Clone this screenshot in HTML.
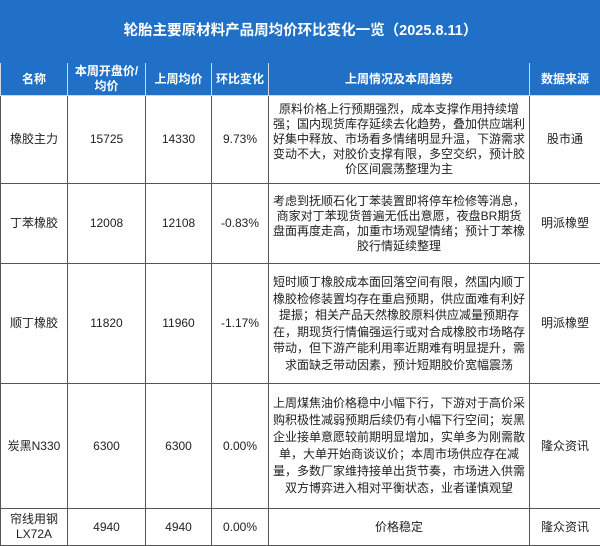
<!DOCTYPE html>
<html><head><meta charset="utf-8"><style>
body{margin:0;width:600px;height:545px;overflow:hidden;background:#fff;font-family:"Liberation Sans","Noto Sans CJK SC",sans-serif;}
table{border-collapse:collapse;width:600px;table-layout:fixed;position:absolute;top:0;left:0}
td{border:1px solid #555;text-align:center;vertical-align:middle;font-size:12px;color:#222;padding:0 2px;line-height:15px;overflow:hidden}
.t td{background:#1f70c6;color:#fff;font-weight:bold;font-size:14.5px;height:61px;border-color:#1f70c6}
.h td{background:#1f70c6;color:#fff;font-weight:bold;font-size:12px;height:32px;border-color:#d0d8e8;line-height:15px}
.d{text-align:center;padding:0 3px}
</style></head><body>
<table>
<colgroup><col style="width:67px"><col style="width:78px"><col style="width:66px"><col style="width:57px"><col style="width:261px"><col style="width:71px"></colgroup>
<tr class="t"><td colspan="6">轮胎主要原材料产品周均价环比变化一览（2025.8.11）</td></tr>
<tr class="h"><td>名称</td><td>本周开盘价/<br>均价</td><td>上周均价</td><td>环比变化</td><td>上周情况及本周趋势</td><td>数据来源</td></tr>
<tr style="height:88px"><td>橡胶主力</td><td>15725</td><td>14330</td><td>9.73%</td><td class="d">原料价格上行预期强烈，成本支撑作用持续增强；国内现货库存延续去化趋势，叠加供应端利好集中释放、市场看多情绪明显升温，下游需求变动不大，对胶价支撑有限，多空交织，预计胶价区间震荡整理为主</td><td>股市通</td></tr>
<tr style="height:80px"><td>丁苯橡胶</td><td>12008</td><td>12108</td><td>-0.83%</td><td class="d">考虑到抚顺石化丁苯装置即将停车检修等消息，商家对丁苯现货普遍无低出意愿，夜盘BR期货盘面再度走高，加重市场观望情绪；预计丁苯橡胶行情延续整理</td><td>明派橡塑</td></tr>
<tr style="height:120px"><td>顺丁橡胶</td><td>11820</td><td>11960</td><td>-1.17%</td><td class="d" style="line-height:16.5px">短时顺丁橡胶成本面回落空间有限，然国内顺丁橡胶检修装置均存在重启预期，供应面难有利好提振；相关产品天然橡胶原料供应减量预期存在，期现货行情偏强运行或对合成橡胶市场略存带动，但下游产能利用率近期难有明显提升，需求面缺乏带动因素，预计短期胶价宽幅震荡</td><td>明派橡塑</td></tr>
<tr style="height:125px"><td>炭黑N330</td><td>6300</td><td>6300</td><td>0.00%</td><td class="d" style="line-height:17px">上周煤焦油价格稳中小幅下行，下游对于高价采购积极性减弱预期后续仍有小幅下行空间；炭黑企业接单意愿较前期明显增加，实单多为刚需散单，大单开始商谈议价；本周市场供应存在减量，多数厂家维持接单出货节奏，市场进入供需双方博弈进入相对平衡状态，业者谨慎观望</td><td>隆众资讯</td></tr>
<tr style="height:37px"><td>帘线用钢<br>LX72A</td><td>4940</td><td>4940</td><td>0.00%</td><td>价格稳定</td><td>隆众资讯</td></tr>
</table>
</body></html>
